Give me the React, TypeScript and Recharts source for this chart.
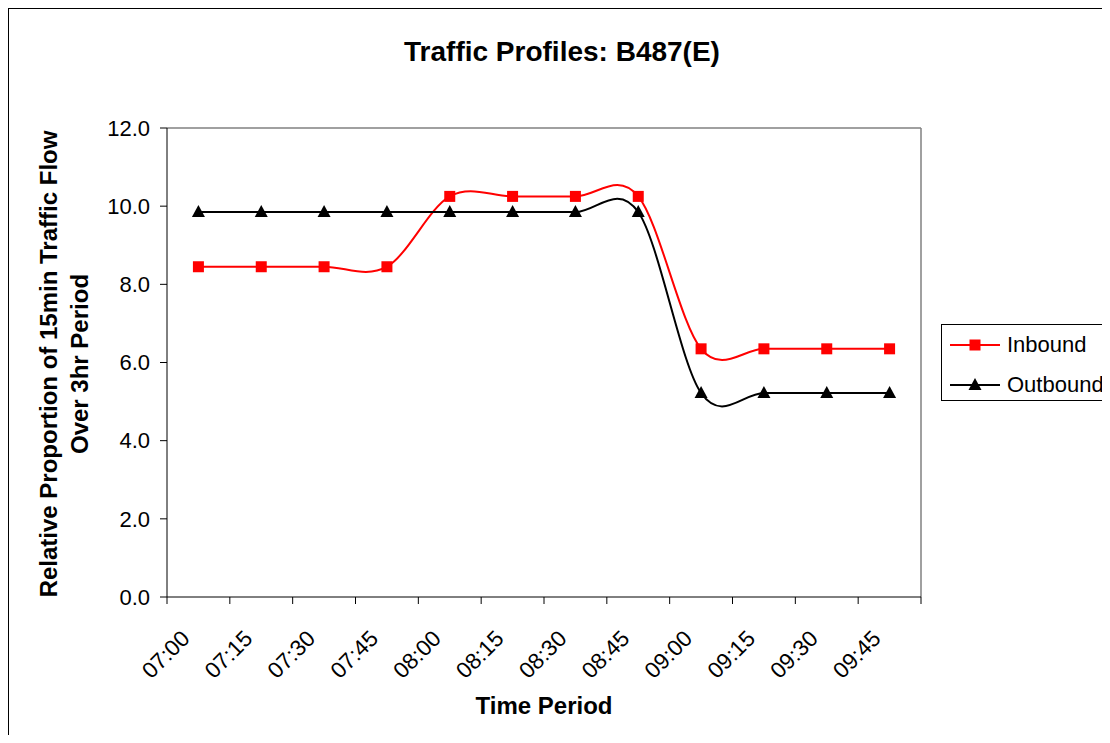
import { LineChart, Line, XAxis, YAxis, Legend, ReferenceLine } from 'recharts';

const TIME_LABELS = ['07:00', '07:15', '07:30', '07:45', '08:00', '08:15', '08:30', '08:45', '09:00', '09:15', '09:30', '09:45'];
const INBOUND = [8.45, 8.45, 8.45, 8.45, 10.25, 10.25, 10.25, 10.25, 6.35, 6.35, 6.35, 6.35];
const OUTBOUND = [9.85, 9.85, 9.85, 9.85, 9.85, 9.85, 9.85, 9.85, 5.22, 5.22, 5.22, 5.22];
const Y_TICKS = [0, 2, 4, 6, 8, 10, 12];

const FONT = '"Liberation Sans", Arial, sans-serif';

// points sit in the middle of each 15 min slot, labels on the slot boundaries
const data = TIME_LABELS.map((t, i) => ({
  slot: i + 0.5,
  time: t,
  inbound: INBOUND[i],
  outbound: OUTBOUND[i],
}));

// Excel style smoothed line (bezier, control points at 1/6 of neighbour span)
function excelSmooth(context: any) {
  let pts: number[][] = [];
  return {
    areaStart() {},
    areaEnd() {},
    lineStart() {
      pts = [];
    },
    point(x: number, y: number) {
      pts.push([+x, +y]);
    },
    lineEnd() {
      const n = pts.length;
      if (!n) return;
      context.moveTo(pts[0][0], pts[0][1]);
      for (let i = 0; i < n - 1; i++) {
        const p0 = pts[Math.max(i - 1, 0)];
        const p1 = pts[i];
        const p2 = pts[i + 1];
        const p3 = pts[Math.min(i + 2, n - 1)];
        context.bezierCurveTo(
          p1[0] + (p2[0] - p0[0]) / 6,
          p1[1] + (p2[1] - p0[1]) / 6,
          p2[0] - (p3[0] - p1[0]) / 6,
          p2[1] - (p3[1] - p1[1]) / 6,
          p2[0],
          p2[1]
        );
      }
    },
  };
}

const SquareDot = (props: any) => {
  const { cx, cy, index } = props;
  return <rect key={`sq-${index}`} x={cx - 5.5} y={cy - 5.5} width={11} height={11} fill="#ff0000" />;
};

const TriangleDot = (props: any) => {
  const { cx, cy, index } = props;
  return (
    <polygon
      key={`tri-${index}`}
      points={`${cx},${cy - 7} ${cx - 6.5},${cy + 5} ${cx + 6.5},${cy + 5}`}
      fill="#000"
    />
  );
};

const TimeTick = (props: any) => {
  const { x, y, payload } = props;
  const label = TIME_LABELS[payload.value];
  if (!label) return null;
  const tx = x + 24;
  const ty = y + 36;
  return (
    <text
      x={tx}
      y={ty}
      transform={`rotate(-45, ${tx}, ${ty})`}
      textAnchor="end"
      fontFamily={FONT}
      fontSize={22.5}
      fill="#000"
    >
      {label}
    </text>
  );
};

const YTitle = () => (
  <g fontFamily={FONT} fontSize={24} fontWeight="bold" fill="#000">
    <text x={48} y={355} transform="rotate(-90, 48, 355)" textAnchor="middle">
      Relative Proportion of 15min Traffic Flow
    </text>
    <text x={79} y={355} transform="rotate(-90, 79, 355)" textAnchor="middle">
      Over 3hr Period
    </text>
  </g>
);

const LegendBox = () => {
  const rows = [
    { name: 'Inbound', color: '#ff0000', top: 21 },
    { name: 'Outbound', color: '#000', top: 61 },
  ];
  return (
    <div
      style={{
        position: 'relative',
        width: 180,
        height: 77,
        border: '1px solid #000',
        boxSizing: 'border-box',
        background: '#fff',
        fontFamily: FONT,
        fontSize: 22,
      }}
    >
      {rows.map(r => (
        <div key={r.name} style={{ position: 'absolute', left: 8, top: r.top - 16, height: 30, display: 'flex', alignItems: 'center' }}>
          <svg width={52} height={30} style={{ display: 'block' }}>
            <line x1={0} y1={15} x2={50} y2={15} stroke={r.color} strokeWidth={2} />
            {r.name === 'Inbound' ? (
              <rect x={19.5} y={9.5} width={11} height={11} fill={r.color} />
            ) : (
              <polygon points="25,8 18.5,20 31.5,20" fill={r.color} />
            )}
          </svg>
          <span style={{ marginLeft: 5, lineHeight: '30px', color: '#000' }}>{r.name}</span>
        </div>
      ))}
    </div>
  );
};

export default function App() {
  return (
    <div
      style={{
        position: 'relative',
        width: 1102,
        height: 727,
        borderTop: '1px solid #000',
        borderLeft: '1px solid #000',
        boxSizing: 'border-box',
        overflow: 'hidden',
        background: '#fff',
      }}
    >
      <div
        style={{
          position: 'absolute',
          left: 353,
          top: 29,
          width: 400,
          textAlign: 'center',
          fontFamily: FONT,
          fontSize: 28,
          fontWeight: 'bold',
          lineHeight: '28px',
          whiteSpace: 'nowrap',
        }}
      >
        Traffic Profiles: B487(E)
      </div>
      <LineChart width={1101} height={726} data={data} margin={{ top: 119, right: 189, bottom: 0, left: 0 }}>
        <XAxis
          type="number"
          dataKey="slot"
          domain={[0, 12]}
          ticks={[0, 1, 2, 3, 4, 5, 6, 7, 8, 9, 10, 11, 12]}
          interval={0}
          allowDecimals={false}
          height={138}
          tickSize={7}
          tickMargin={0}
          stroke="#000"
          tick={<TimeTick />}
          label={{
            value: 'Time Period',
            position: 'insideBottom',
            offset: 21,
            fontFamily: FONT,
            fontSize: 24,
            fontWeight: 'bold',
            fill: '#000',
          }}
        />
        <YAxis
          type="number"
          domain={[0, 12]}
          ticks={Y_TICKS}
          width={158}
          tickSize={7}
          tickMargin={10}
          stroke="#000"
          tick={{ fontFamily: FONT, fontSize: 22, fill: '#000' }}
          tickFormatter={(v: number) => v.toFixed(1)}
          label={<YTitle />}
        />
        <ReferenceLine y={12} stroke="#808080" strokeWidth={1.5} />
        <ReferenceLine x={12} stroke="#808080" strokeWidth={1.5} />
        <Legend
          layout="vertical"
          align="center"
          verticalAlign="middle"
          content={<LegendBox />}
          wrapperStyle={{ position: 'absolute', left: 932, top: 315, width: 180 }}
        />
        <Line
          dataKey="inbound"
          name="Inbound"
          type={excelSmooth as any}
          stroke="#ff0000"
          strokeWidth={2}
          dot={SquareDot}
          activeDot={false}
          isAnimationActive={false}
        />
        <Line
          dataKey="outbound"
          name="Outbound"
          type={excelSmooth as any}
          stroke="#000"
          strokeWidth={2}
          dot={TriangleDot}
          activeDot={false}
          isAnimationActive={false}
        />
      </LineChart>
    </div>
  );
}
